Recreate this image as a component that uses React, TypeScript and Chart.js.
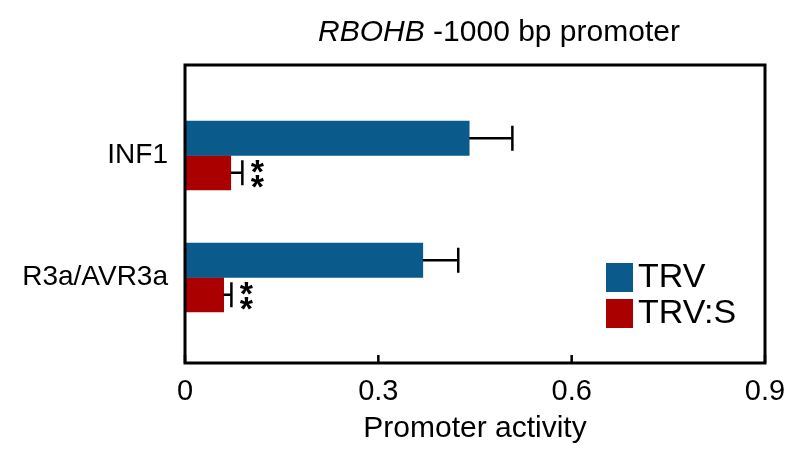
import React, { useEffect, useRef } from 'react';
import { Chart, registerables } from 'chart.js';

Chart.register(...registerables);

// ---- data ----
const categories = ['INF1', 'R3a/AVR3a'];
const seriesNames = ['TRV', 'TRV:S'];
const trvValues = [0.441, 0.369];
const trvErrors = [0.067, 0.055];
const trvsValues = [0.071, 0.06];
const trvsErrors = [0.018, 0.012];
const trvsSignificance = ['**', '**'];
const xTickValues = [0, 0.3, 0.6, 0.9];
const yRange = [-0.742, 1.701];
const titleItalic = 'RBOHB';
const titleRest = ' -1000 bp promoter';
const xAxisTitle = 'Promoter activity';

const BLUE = '#0a5a8c';
const RED = '#aa0000';
const FONT = "'Liberation Sans', Arial, sans-serif";

const decorPlugin = {
  id: 'decor',
  afterDatasetsDraw(chart: any) {
    const ctx = chart.ctx as CanvasRenderingContext2D;
    const { left, right, top, bottom } = chart.chartArea;
    const xs = chart.scales.x;
    ctx.save();
    // error bars + significance
    chart.data.datasets.forEach((ds: any, di: number) => {
      const meta = chart.getDatasetMeta(di);
      meta.data.forEach((el: any, j: number) => {
        const v = ds.data[j].x;
        const e = ds.errors[j];
        const xe = xs.getPixelForValue(v + e);
        const capH = el.height * 0.72;
        ctx.strokeStyle = '#000';
        ctx.lineWidth = 2.5;
        ctx.beginPath();
        ctx.moveTo(el.x, el.y);
        ctx.lineTo(xe, el.y);
        ctx.moveTo(xe, el.y - capH / 2);
        ctx.lineTo(xe, el.y + capH / 2);
        ctx.stroke();
        const sig = ds.significance ? ds.significance[j] : '';
        if (sig) {
          ctx.fillStyle = '#000';
          ctx.font = `bold 34px ${FONT}`;
          ctx.textAlign = 'center';
          ctx.textBaseline = 'alphabetic';
          const m = ctx.measureText('*');
          const chars = sig.split('');
          const step = 15;
          chars.forEach((c: string, k: number) => {
            const cy = el.y + 1 + (k - (chars.length - 1) / 2) * step;
            const base = cy + (m.actualBoundingBoxAscent - m.actualBoundingBoxDescent) / 2;
            ctx.fillText(c, xe + 15, base);
          });
        }
      });
    });
    // frame
    ctx.strokeStyle = '#000';
    ctx.lineWidth = 3;
    ctx.strokeRect(left, top, right - left, bottom - top);
    // inward ticks on x axis
    ctx.lineWidth = 2.5;
    ctx.beginPath();
    xTickValues.forEach((v) => {
      const px = xs.getPixelForValue(v);
      ctx.moveTo(px, bottom);
      ctx.lineTo(px, bottom - 8);
    });
    ctx.stroke();
    // legend
    const lx = right - 159;
    const rows = [bottom - 100, bottom - 64];
    chart.data.datasets.forEach((ds: any, di: number) => {
      ctx.fillStyle = ds.backgroundColor;
      ctx.fillRect(lx, rows[di], 27, 29);
      ctx.fillStyle = '#000';
      ctx.font = `34px ${FONT}`;
      ctx.textAlign = 'left';
      ctx.textBaseline = 'middle';
      ctx.fillText(ds.label, lx + 32, rows[di] + 15);
    });
    // title
    ctx.textBaseline = 'middle';
    ctx.textAlign = 'left';
    ctx.font = `italic 30px ${FONT}`;
    const w1 = ctx.measureText(titleItalic).width;
    ctx.font = `30px ${FONT}`;
    const w2 = ctx.measureText(titleRest).width;
    const cx = 499;
    const sx = cx - (w1 + w2) / 2;
    ctx.font = `italic 30px ${FONT}`;
    ctx.fillText(titleItalic, sx, 33);
    ctx.font = `30px ${FONT}`;
    ctx.fillText(titleRest, sx + w1, 33);
    ctx.restore();
  },
};

export default function App() {
  const ref = useRef<HTMLCanvasElement>(null);
  useEffect(() => {
    document.body.style.margin = '0';
    Chart.defaults.font.family = FONT;
    const chart = new Chart(ref.current as HTMLCanvasElement, {
      type: 'bar',
      data: {
        datasets: [
          {
            label: seriesNames[0],
            data: trvValues.map((v, i) => ({ x: v, y: i })),
            backgroundColor: BLUE,
            errors: trvErrors,
          } as any,
          {
            label: seriesNames[1],
            data: trvsValues.map((v, i) => ({ x: v, y: i })),
            backgroundColor: RED,
            errors: trvsErrors,
            significance: trvsSignificance,
          } as any,
        ],
      },
      options: {
        indexAxis: 'y',
        responsive: false,
        animation: false,
        layout: { padding: { top: 65, right: 20, left: 0, bottom: 0 } },
        datasets: { bar: { barThickness: 34.5, borderWidth: 0 } },
        plugins: {
          legend: { display: false },
          tooltip: { enabled: false },
          title: { display: false },
        },
        scales: {
          x: {
            type: 'linear',
            position: 'bottom',
            min: 0,
            max: 0.9,
            afterBuildTicks: (s: any) => {
              s.ticks = xTickValues.map((v) => ({ value: v }));
            },
            afterFit: (s: any) => {
              s.height = 88;
              s.paddingLeft = 0;
              s.paddingRight = 0;
            },
            grid: { display: false, drawTicks: false },
            border: { display: false },
            ticks: {
              color: '#000',
              font: { size: 29 },
              padding: 12,
              maxRotation: 0,
              autoSkip: false,
              callback: (v: any) => String(v),
            },
            title: {
              display: true,
              text: xAxisTitle,
              color: '#000',
              font: { size: 30 },
              padding: { top: 0, bottom: 4 },
            },
          },
          y: {
            type: 'linear',
            reverse: true,
            offset: false,
            min: yRange[0],
            max: yRange[1],
            afterDataLimits: (s: any) => {
              s.min = yRange[0];
              s.max = yRange[1];
            },
            afterBuildTicks: (s: any) => {
              s.ticks = categories.map((_, i) => ({ value: i }));
              s.min = yRange[0];
              s.max = yRange[1];
            },
            afterFit: (s: any) => {
              s.width = 185;
              s.paddingTop = 0;
              s.paddingBottom = 0;
            },
            grid: { display: false, drawTicks: false, offset: false },
            border: { display: false },
            ticks: {
              color: '#000',
              font: { size: 28 },
              padding: 17,
              autoSkip: false,
              callback: (v: any) => categories[v] ?? '',
            },
          },
        },
      } as any,
      plugins: [decorPlugin],
    });
    return () => chart.destroy();
  }, []);
  return (
    <div style={{ width: 785, height: 451, background: '#fff' }}>
      <canvas ref={ref} width={785} height={451} style={{ display: 'block', width: 785, height: 451 }} />
    </div>
  );
}
